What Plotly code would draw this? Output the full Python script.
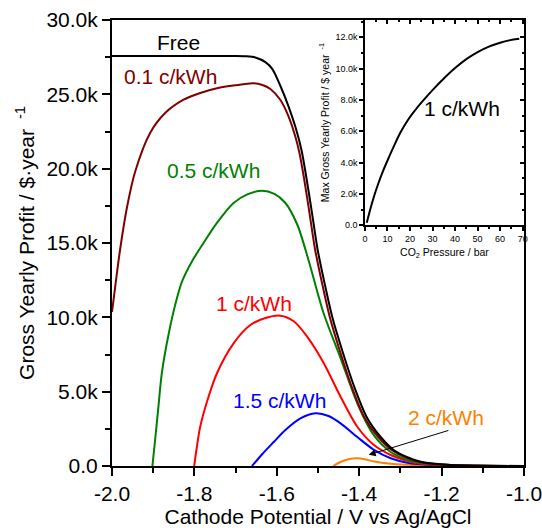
import plotly.graph_objects as go

# ---------------- Main chart data (y in thousands of $/year) ----------------
free_x = [-2.0, -1.7007, -1.6764, -1.6521, -1.6277, -1.6107, -1.5912, -1.5718, -1.5547, -1.5401,
          -1.528, -1.5146, -1.5012, -1.4842, -1.4647, -1.4416, -1.4136, -1.382, -1.3479, -1.3163,
          -1.2847, -1.2506, -1.1776, -1.0]
free_y = [27.58, 27.58, 27.56, 27.48, 27.17, 26.70, 25.56, 24.21, 22.80, 21.25,
          19.37, 17.02, 14.60, 12.31, 9.95, 7.80, 5.45, 3.30, 1.95, 1.08,
          0.61, 0.29, 0.07, 0.0]

c01_x = [-2.0, -1.9951, -1.9805, -1.9635, -1.944, -1.9075, -1.871, -1.8273, -1.7859, -1.7453,
         -1.7007, -1.6569, -1.635, -1.6156, -1.5912, -1.5718, -1.5547, -1.545, -1.534, -1.5207,
         -1.5073, -1.4903, -1.4708, -1.4477, -1.4197, -1.3881, -1.354, -1.3212, -1.2883, -1.253,
         -1.1776, -1.0]
c01_y = [10.36, 11.43, 14.53, 17.42, 19.78, 22.40, 23.74, 24.62, 25.09, 25.41,
         25.61, 25.74, 25.63, 25.36, 24.62, 23.54, 22.13, 21.05, 19.37, 17.02,
         14.60, 12.31, 9.95, 7.80, 5.45, 3.30, 1.95, 1.08, 0.585, 0.27,
         0.06, 0.0]

c05_x = [-1.9019, -1.8954, -1.8873, -1.8791, -1.863, -1.8467, -1.8304, -1.8054, -1.7779, -1.7453,
         -1.7049, -1.6715, -1.6358, -1.6058, -1.5791, -1.5499, -1.5231, -1.4866, -1.4453, -1.4039,
         -1.365, -1.3236, -1.2822, -1.2506, -1.1776, -1.0]
c05_y = [0.0, 1.75, 3.99, 6.24, 8.81, 10.83, 12.38, 13.79, 15.0, 16.35,
         17.69, 18.27, 18.52, 18.30, 17.69, 16.21, 13.86, 10.29, 7.26, 4.17,
         2.09, 0.94, 0.40, 0.20, 0.07, 0.0]

c1_x = [-1.8005, -1.7944, -1.7859, -1.7689, -1.7453, -1.7049, -1.6642, -1.6277, -1.5912, -1.5596,
        -1.5263, -1.4859, -1.4453, -1.4046, -1.3642, -1.3236, -1.283, -1.2506, -1.1776, -1.0]
c1_y = [0.0, 1.21, 2.64, 4.37, 6.24, 8.25, 9.48, 9.95, 10.11, 9.75,
        8.70, 6.91, 4.66, 2.64, 1.41, 0.74, 0.34, 0.15, 0.05, 0.0]

c15_x = [-1.6601, -1.635, -1.6075, -1.5791, -1.5426, -1.5061, -1.4745, -1.4453, -1.4046, -1.3642,
         -1.3236, -1.283, -1.2263, -1.0]
c15_y = [0.0, 0.81, 1.61, 2.42, 3.20, 3.54, 3.36, 2.87, 1.95, 1.08,
         0.52, 0.22, 0.07, 0.0]

c2_x = [-1.463, -1.4453, -1.4282, -1.4046, -1.3844, -1.3642, -1.3236, -1.2506, -1.0]
c2_y = [0.0, 0.27, 0.44, 0.52, 0.44, 0.30, 0.15, 0.05, 0.0]

x_tickvals = [-2.0, -1.8, -1.6, -1.4, -1.2, -1.0]
x_ticktext = ["-2.0", "-1.8", "-1.6", "-1.4", "-1.2", "-1.0"]
y_tickvals = [0, 5, 10, 15, 20, 25, 30]
y_ticktext = ["0.0", "5.0k", "10.0k", "15.0k", "20.0k", "25.0k", "30.0k"]

# ---------------- Inset data ----------------
ins_p = [0.8, 2, 4, 6, 8, 10, 12.5, 15.5, 19, 23, 26.6, 30, 35, 40, 45, 50, 55, 60, 64, 68.5]
ins_y = [0.15, 0.83, 1.83, 2.69, 3.45, 4.13, 4.93, 5.85, 6.7, 7.47, 8.08, 8.62, 9.36, 10.03,
         10.6, 11.05, 11.4, 11.65, 11.8, 11.9]
ins_xticks = [0, 10, 20, 30, 40, 50, 60, 70]
ins_xtext = ["0", "10", "20", "30", "40", "50", "60", "70"]
ins_yticks = [0, 2, 4, 6, 8, 10, 12]
ins_ytext = ["0.0", "2.0k", "4.0k", "6.0k", "8.0k", "10.0k", "12.0k"]

FONT = "Liberation Sans, Arial, sans-serif"

series = [
    ("Free", free_x, free_y, "#000000"),
    ("0.1 c/kWh", c01_x, c01_y, "#800000"),
    ("0.5 c/kWh", c05_x, c05_y, "#008000"),
    ("1 c/kWh", c1_x, c1_y, "#ff0000"),
    ("1.5 c/kWh", c15_x, c15_y, "#0000ff"),
    ("2 c/kWh", c2_x, c2_y, "#ff8000"),
]

fig = go.Figure()
for name, xs, ys, col in reversed(series):
    fig.add_trace(go.Scatter(x=xs, y=ys, mode="lines", name=name,
                             line=dict(color=col, width=2, shape="spline", smoothing=0.8),
                             xaxis="x", yaxis="y"))

fig.add_trace(go.Scatter(x=ins_p, y=ins_y, mode="lines", name="inset",
                         line=dict(color="#000000", width=2, shape="spline", smoothing=1.0),
                         xaxis="x2", yaxis="y2"))
# invisible trace to materialise mirror axes of the inset
fig.add_trace(go.Scatter(x=[ins_p[0]], y=[ins_y[0]], mode="markers", marker=dict(opacity=0),
                         xaxis="x3", yaxis="y3", hoverinfo="skip"))

label_font = dict(family=FONT, size=21)
annotations = [
    dict(x=-1.838, y=28.5, text="Free", font=dict(label_font, color="#000000")),
    dict(x=-1.859, y=26.2, text="0.1 c/kWh", font=dict(label_font, color="#800000")),
    dict(x=-1.753, y=19.9, text="0.5 c/kWh", font=dict(label_font, color="#008000")),
    dict(x=-1.656, y=10.95, text="1 c/kWh", font=dict(label_font, color="#ff0000")),
    dict(x=-1.594, y=4.4, text="1.5 c/kWh", font=dict(label_font, color="#0000ff")),
    dict(x=-1.189, y=3.25, text="2 c/kWh", font=dict(label_font, color="#ff8000")),
]
for a in annotations:
    a.update(xref="x", yref="y", showarrow=False, xanchor="center", yanchor="middle")
annotations.append(dict(x=-1.377, y=0.75, ax=-1.18, ay=2.42, xref="x", yref="y", axref="x", ayref="y",
                        text="", showarrow=True, arrowhead=2, arrowsize=1.4, arrowwidth=1,
                        arrowcolor="#000000"))
annotations.append(dict(x=43.2, y=7.45, xref="x2", yref="y2", text="1 c/kWh", showarrow=False,
                        font=dict(label_font, color="#000000"), xanchor="center", yanchor="middle"))

fig.update_layout(
    width=542, height=530,
    margin=dict(l=112, r=18, t=20, b=64, autoexpand=False),
    paper_bgcolor="white", plot_bgcolor="white",
    showlegend=False,
    font=dict(family=FONT, color="#000000"),
    annotations=annotations,
    xaxis=dict(range=[-2.0, -1.0], domain=[0, 1], anchor="y", automargin=False,
               tickmode="array", tickvals=x_tickvals, ticktext=x_ticktext,
               ticklabeloverflow="allow",
               ticks="outside", ticklen=8, tickwidth=2, tickcolor="#000",
               minor=dict(dtick=0.1, tick0=-2.0, ticks="outside", ticklen=5, tickwidth=2, tickcolor="#000"),
               showline=True, linewidth=2, linecolor="#000", mirror=True,
               showgrid=False, zeroline=False,
               tickfont=dict(family=FONT, size=21),
               title=dict(text="Cathode Potential / V vs Ag/AgCl", font=dict(family=FONT, size=21), standoff=4)),
    yaxis=dict(range=[0, 30], domain=[0, 1], anchor="x", automargin=False,
               tickmode="array", tickvals=y_tickvals, ticktext=y_ticktext,
               ticklabeloverflow="allow",
               ticks="outside", ticklen=8, tickwidth=2, tickcolor="#000",
               minor=dict(dtick=2.5, tick0=0, ticks="outside", ticklen=5, tickwidth=2, tickcolor="#000"),
               showline=True, linewidth=2, linecolor="#000", mirror=True,
               showgrid=False, zeroline=False,
               tickfont=dict(family=FONT, size=21),
               title=dict(text="Gross Yearly Profit / $·year <sup> -1</sup>", font=dict(family=FONT, size=21), standoff=6)),
    xaxis2=dict(range=[0, 70.6], domain=[0.614, 1.0], anchor="y2", automargin=False,
                tickmode="array", tickvals=ins_xticks, ticktext=ins_xtext,
                ticklabeloverflow="allow",
                ticks="outside", ticklen=4, tickwidth=1.5, tickcolor="#000",
                minor=dict(dtick=5, tick0=0, ticks="outside", ticklen=2.5, tickwidth=1.5, tickcolor="#000"),
                showline=True, linewidth=1.5, linecolor="#000",
                showgrid=False, zeroline=False,
                tickfont=dict(family=FONT, size=9),
                title=dict(text="CO<sub>2</sub> Pressure / bar", font=dict(family=FONT, size=10.5), standoff=6)),
    yaxis2=dict(range=[0, 13.1], domain=[0.540, 1.0], anchor="x2", automargin=False,
                tickmode="array", tickvals=ins_yticks, ticktext=ins_ytext,
                ticklabeloverflow="allow",
                ticks="outside", ticklen=4, tickwidth=1.5, tickcolor="#000",
                minor=dict(dtick=1, tick0=0, ticks="outside", ticklen=2.5, tickwidth=1.5, tickcolor="#000"),
                showline=True, linewidth=1.5, linecolor="#000",
                showgrid=False, zeroline=False,
                tickfont=dict(family=FONT, size=9),
                title=dict(text="Max Gross Yearly Profit / $ year <sup> -1</sup>", font=dict(family=FONT, size=10.5), standoff=4)),
    xaxis3=dict(range=[0, 70.6], overlaying="x2", anchor="y3", side="top", automargin=False,
                tickmode="array", tickvals=ins_xticks, showticklabels=False,
                ticks="inside", ticklen=4, tickwidth=1.5, tickcolor="#000",
                minor=dict(dtick=5, tick0=0, ticks="inside", ticklen=2.5, tickwidth=1.5, tickcolor="#000"),
                showline=True, linewidth=1.5, linecolor="#000",
                showgrid=False, zeroline=False),
    yaxis3=dict(range=[0, 13.1], overlaying="y2", anchor="x3", side="right", automargin=False,
                tickmode="array", tickvals=ins_yticks, showticklabels=False,
                ticks="inside", ticklen=4, tickwidth=1.5, tickcolor="#000",
                minor=dict(dtick=1, tick0=0, ticks="inside", ticklen=2.5, tickwidth=1.5, tickcolor="#000"),
                showline=True, linewidth=2, linecolor="#000",
                showgrid=False, zeroline=False),
)

fig.write_html("out.html")
